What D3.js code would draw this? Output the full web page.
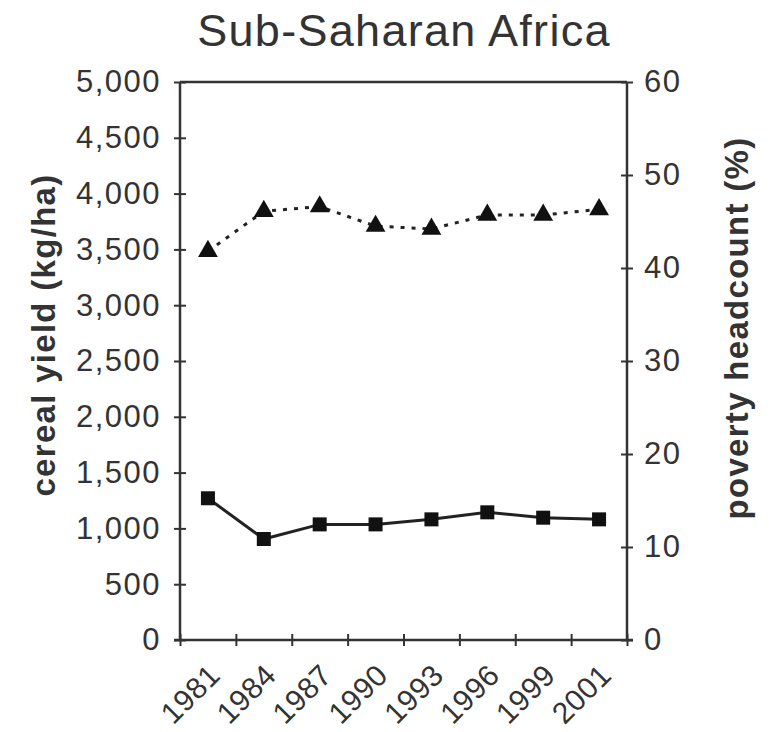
<!DOCTYPE html>
<html>
<head>
<meta charset="utf-8">
<script src="https://cdn.jsdelivr.net/npm/d3@7"></script>
<style>
  html, body { margin: 0; padding: 0; background: #fff; }
  svg { display: block; }
  text { font-family: "Liberation Sans", Arial, Helvetica, sans-serif; fill: #333; }
</style>
</head>
<body>
<svg id="chart" width="769" height="732"></svg>
<script>
const years = ["1981", "1984", "1987", "1990", "1993", "1996", "1999", "2001"];
const cerealYield = [1270, 905, 1036, 1036, 1081, 1144, 1096, 1081];
const povertyHeadcount = [41.8, 46.1, 46.6, 44.5, 44.2, 45.7, 45.7, 46.3];
const leftTicks = [0, 500, 1000, 1500, 2000, 2500, 3000, 3500, 4000, 4500, 5000];
const rightTicks = [0, 10, 20, 30, 40, 50, 60];
const titleText = "Sub-Saharan Africa";
const leftLabel = "cereal yield (kg/ha)";
const rightLabel = "poverty headcount (%)";

const svg = d3.select("#chart");
const m = { left: 180, right: 627, top: 82, bottom: 640 };
const ink = "#333";

const x = d3.scaleBand().domain(years).range([m.left, m.right]).padding(0);
const yL = d3.scaleLinear().domain([0, 5000]).range([m.bottom, m.top]);
const yR = d3.scaleLinear().domain([0, 60]).range([m.bottom, m.top]);

// Title
svg.append("text").attr("x", 404).attr("y", 46).attr("text-anchor", "middle")
  .style("font-size", "45px").style("letter-spacing", "1.3px").text(titleText);

// Left axis
const gL = svg.append("g").attr("transform", `translate(${m.left},0)`)
  .call(d3.axisLeft(yL).tickValues(leftTicks).tickFormat(d3.format(",")).tickSize(6).tickPadding(13));
// Right axis
const gR = svg.append("g").attr("transform", `translate(${m.right},0)`)
  .call(d3.axisRight(yR).tickValues(rightTicks).tickSize(6).tickPadding(11));
// Bottom axis (ticks at band boundaries)
const xTick = d3.scaleLinear().domain([0, years.length]).range([m.left, m.right]);
const gB = svg.append("g").attr("transform", `translate(0,${m.bottom})`)
  .call(d3.axisBottom(xTick).tickValues(d3.range(years.length + 1)).tickSize(6).tickFormat(""));

// Top line
svg.append("line").attr("x1", m.left).attr("x2", m.right).attr("y1", m.top).attr("y2", m.top)
  .attr("stroke", ink).attr("stroke-width", 2.5);

[gL, gR, gB].forEach(g => {
  g.select(".domain").attr("stroke", ink).attr("stroke-width", 2.5);
  g.selectAll(".tick line").attr("stroke", ink).attr("stroke-width", 2);
  g.selectAll("text").style("font-size", "31px").style("letter-spacing", "1.5px").attr("fill", ink)
    .style("font-family", "'Liberation Sans', Arial, sans-serif");
});
gL.selectAll(".tick line").attr("x1", 6);
gR.selectAll(".tick line").attr("x1", -6);
gB.selectAll(".tick line").attr("y1", -6);
gL.select(".domain").attr("d", `M0,${m.top}V${m.bottom}`);
gR.select(".domain").attr("d", `M0,${m.top}V${m.bottom}`);
gB.select(".domain").attr("d", `M${m.left - 6},0H${m.right + 6}`);

// Year labels
svg.append("g").selectAll("text").data(years).join("text")
  .attr("transform", d => `translate(${x(d) + x.bandwidth() / 2 + 14},${m.bottom + 37}) rotate(-45)`)
  .attr("text-anchor", "end")
  .style("font-size", "30px")
  .style("letter-spacing", "0.5px")
  .text(d => d);

// Axis titles
svg.append("text").attr("transform", `translate(55,335) rotate(-90)`)
  .attr("text-anchor", "middle").style("font-size", "33px").style("font-weight", "bold")
  .style("letter-spacing", "1.3px").text(leftLabel);
svg.append("text").attr("transform", `translate(748,328) rotate(-90)`)
  .attr("text-anchor", "middle").style("font-size", "33px").style("font-weight", "bold")
  .style("letter-spacing", "1.3px").text(rightLabel);

const cx = d => x(d) + x.bandwidth() / 2;

// Poverty headcount (dotted line, triangles)
svg.append("path").datum(povertyHeadcount)
  .attr("d", d3.line().x((d, i) => cx(years[i])).y(d => yR(d)))
  .attr("fill", "none").attr("stroke", "#222").attr("stroke-width", 3)
  .attr("stroke-dasharray", "4,7");
svg.append("g").selectAll("path").data(povertyHeadcount).join("path")
  .attr("transform", (d, i) => `translate(${cx(years[i])},${yR(d)})`)
  .attr("d", d3.symbol().type(d3.symbolTriangle).size(170))
  .attr("fill", "#111");

// Cereal yield (solid line, squares)
svg.append("path").datum(cerealYield)
  .attr("d", d3.line().x((d, i) => cx(years[i])).y(d => yL(d)))
  .attr("fill", "none").attr("stroke", "#222").attr("stroke-width", 3);
svg.append("g").selectAll("rect").data(cerealYield).join("rect")
  .attr("x", (d, i) => cx(years[i]) - 7).attr("y", d => yL(d) - 7)
  .attr("width", 14).attr("height", 14).attr("fill", "#111");
</script>
</body>
</html>
